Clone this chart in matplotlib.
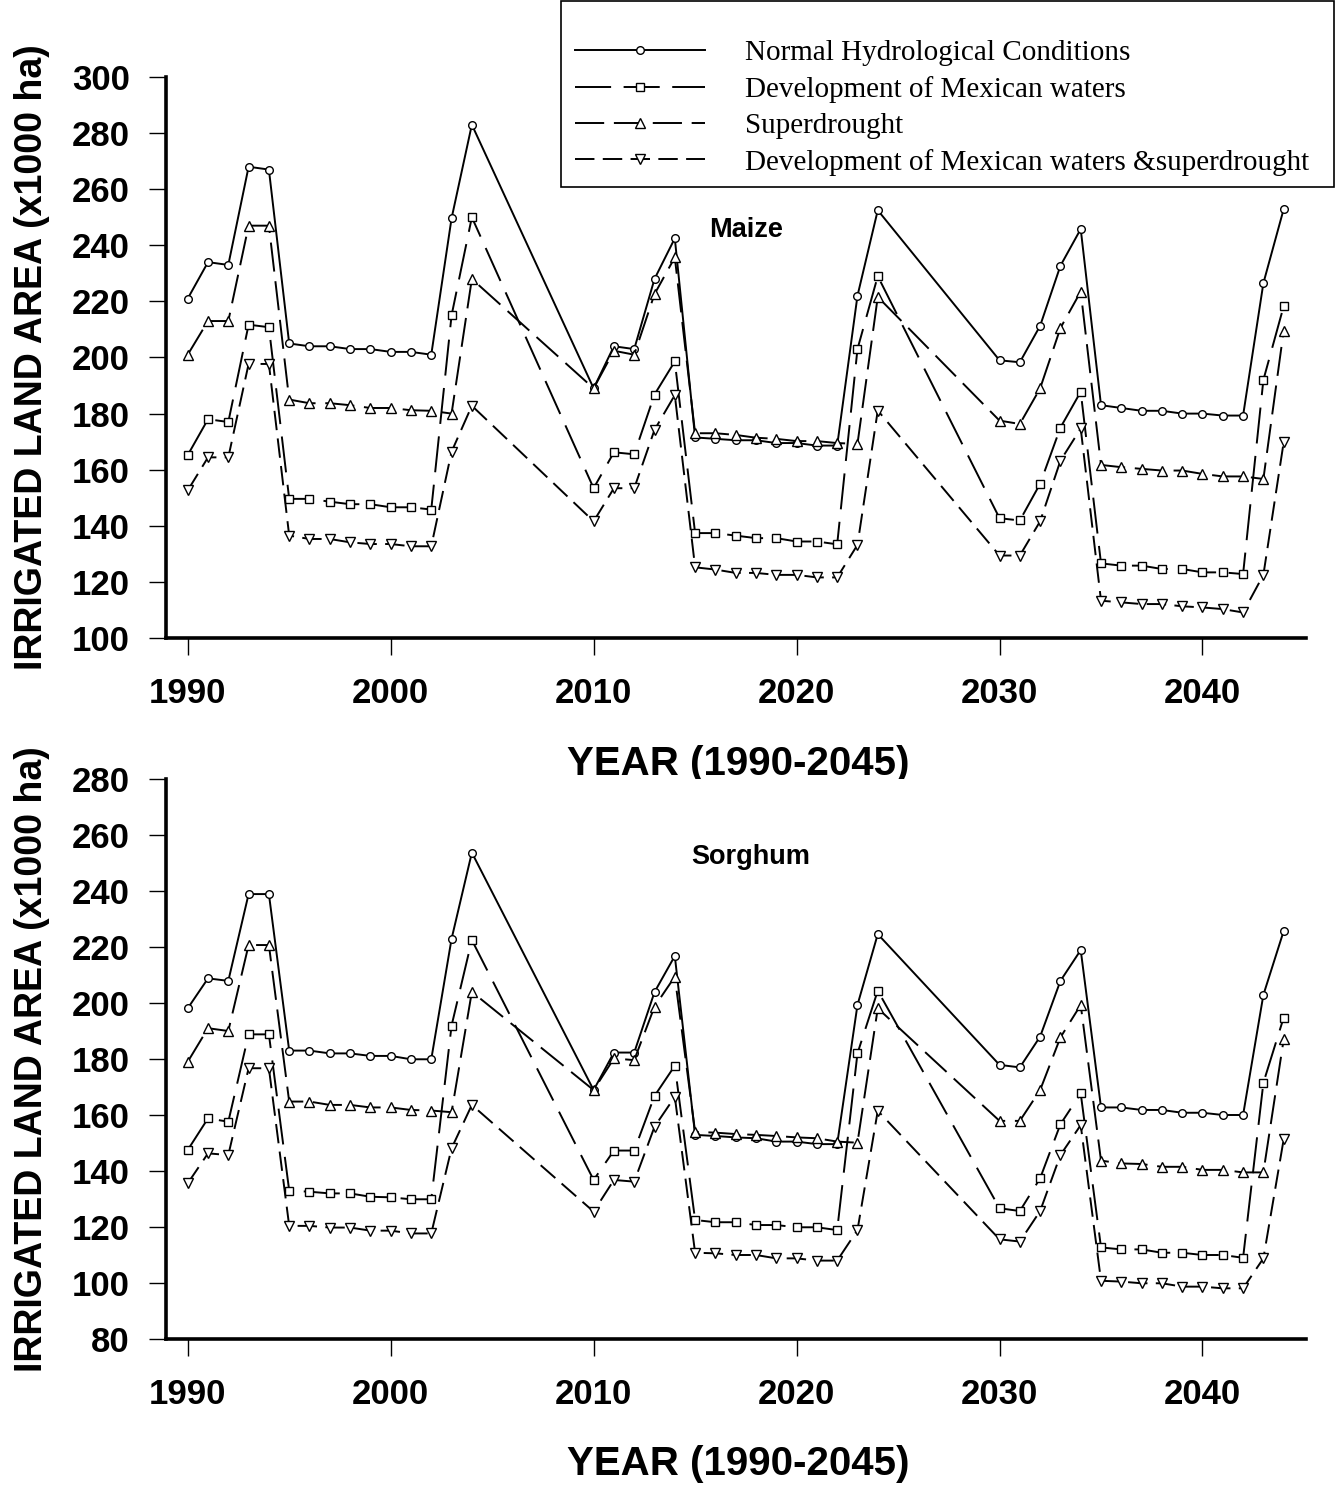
import matplotlib
matplotlib.use("Agg")
import matplotlib.pyplot as plt
from matplotlib.patches import Rectangle

plt.rcParams['font.family'] = 'Liberation Sans'
plt.rcParams['font.weight'] = 'bold'
plt.rcParams['lines.scale_dashes'] = False

years = [1990, 1991, 1992, 1993, 1994, 1995, 1996, 1997, 1998, 1999, 2000, 2001, 2002, 2003, 2004,
         2010, 2011, 2012, 2013, 2014, 2015, 2016, 2017, 2018, 2019, 2020, 2021, 2022, 2023, 2024,
         2030, 2031, 2032, 2033, 2034, 2035, 2036, 2037, 2038, 2039, 2040, 2041, 2042, 2043, 2044]

# Maize (x1000 ha)
normal_m = [221, 234, 233, 268, 267, 205, 204, 204, 203, 203, 202, 202, 201, 249.6, 283,
            189, 204, 203, 228, 242.5, 171.5, 171, 170.5, 170.5, 169.5, 169.5, 168.6, 168.6, 222, 252.5,
            199, 198.3, 211.3, 232.7, 245.8, 183, 182, 181, 181, 180, 180, 179.3, 179.3, 226.5, 252.9]
mex_m = [165.2, 178, 177, 211.7, 210.8, 149.6, 149.6, 148.6, 147.7, 147.7, 146.6, 146.6, 145.8, 215, 250,
         153.4, 166.2, 165.5, 186.8, 198.6, 137.4, 137.4, 136.5, 135.6, 135.6, 134.4, 134.4, 133.4, 203, 229,
         142.7, 141.9, 155, 175, 187.8, 126.6, 125.8, 125.8, 124.6, 124.6, 123.4, 123.4, 122.8, 192, 218.3]
super_m = [201, 213, 213, 247, 247, 185, 183.7, 183.7, 183, 182, 182, 181.2, 181, 180, 228,
           189, 202.4, 201, 222.6, 235.7, 173, 173, 172.4, 171.4, 171, 170.2, 170.2, 169.5, 169.2, 221.6,
           177.5, 176.3, 189, 210.5, 223.5, 161.7, 160.9, 160.3, 159.7, 159.7, 158.5, 157.6, 157.6, 156.7, 209.6]
comb_m = [152.6, 164.4, 164.4, 197.7, 197.7, 136.5, 135.3, 135.3, 134.1, 133.5, 133.5, 132.7, 132.7, 166.4, 182.8,
          141.6, 153.4, 153.4, 174.2, 186.6, 125.2, 124.4, 123.2, 123.2, 122.5, 122.5, 121.6, 121.6, 133.2, 181.1,
          129.4, 129.4, 141.6, 163.2, 174.7, 113.3, 112.7, 112.1, 112.1, 111.3, 110.9, 110.3, 109.1, 122.5, 169.8]

# Sorghum (x1000 ha)
normal_s = [198.1, 208.8, 207.9, 238.9, 238.9, 183, 183, 182, 182, 181.1, 181.1, 179.9, 179.9, 222.9, 253.7,
            168.9, 182.3, 182.3, 203.9, 216.8, 152.9, 152.5, 152, 151.7, 150.5, 150.5, 149.6, 149.6, 199.3, 224.6,
            177.9, 177, 188, 207.9, 218.9, 162.7, 162.7, 161.8, 161.8, 160.8, 160.8, 160, 160, 202.9, 225.7]
mex_s = [147.5, 158.8, 157.6, 188.8, 188.8, 133, 132.6, 132, 132, 130.8, 130.6, 129.9, 129.9, 191.9, 222.5,
         136.8, 147.3, 147.3, 166.8, 177.6, 122.5, 121.7, 121.7, 120.7, 120.7, 119.9, 119.9, 118.9, 182, 204.4,
         126.7, 125.7, 137.4, 156.7, 167.7, 112.7, 112, 112, 110.8, 110.8, 110, 110, 109, 171.5, 194.8]
super_s = [179, 191, 190, 220.7, 220.7, 164.8, 164.8, 163.6, 163.6, 162.7, 162.7, 161.8, 161.6, 161, 204,
           168.9, 180.2, 179.6, 198.7, 209.4, 154, 153.7, 153.2, 152.9, 152.5, 152, 151.7, 150.5, 150.1, 198.1,
           157.9, 157.9, 168.9, 187.7, 199.3, 143.7, 142.7, 142.5, 141.5, 141.5, 140.4, 140.4, 139.5, 139.5, 187]
comb_s = [135.6, 146.3, 145.7, 176.7, 176.7, 120.4, 120.4, 119.8, 119.8, 118.7, 118.7, 117.7, 117.7, 148.1, 163.6,
          125.5, 136.8, 136.2, 155.8, 166.5, 110.8, 110.6, 110, 110, 108.8, 108.8, 108, 108, 118.9, 161.5,
          115.6, 114.8, 125.7, 145.7, 156.4, 100.8, 100.5, 99.9, 99.9, 98.7, 98.7, 98.1, 98.1, 108.8, 151.3]

labels = ['Normal Hydrological Conditions', 'Development of Mexican waters',
          'Superdrought', 'Development of Mexican waters &superdrought']
styles = [dict(ls='-', marker='o', ms=5.5),
          dict(ls=(0, (26, 9)), marker='s', ms=6),
          dict(ls=(0, (21, 7)), marker='^', ms=6.5),
          dict(ls=(0, (14, 6)), marker='v', ms=6.5)]

W, H = 1335, 1485
fig = plt.figure(figsize=(W / 100, H / 100), dpi=100)


def draw(ax, series, ylim, yticks, name, name_xy):
    handles = []
    for vals, st in zip(series, styles):
        h, = ax.plot(years, vals, color='black', lw=1.4, mfc='white', mec='black', mew=1.0, **st)
        handles.append(h)
    ax.set_xlim(1988.93, 2045.1)
    ax.set_ylim(*ylim)
    ax.set_yticks(yticks)
    ax.set_xticks([1990, 2000, 2010, 2020, 2030, 2040])
    for s in ['top', 'right']:
        ax.spines[s].set_visible(False)
    for s in ['left', 'bottom']:
        ax.spines[s].set_linewidth(2.6)
    ax.tick_params(direction='out', length=12, width=1, labelsize=25)
    ax.tick_params(axis='x', pad=16)
    ax.tick_params(axis='y', pad=14)
    ax.set_ylabel('IRRIGATED LAND AREA (x1000 ha)', fontsize=27, fontweight='bold')
    ax.yaxis.set_label_coords(-0.102, 0.5)
    ax.set_xlabel('YEAR (1990-2045)', fontsize=29, fontweight='bold')
    ax.xaxis.set_label_coords(0.502, -0.19)
    ax.text(name_xy[0], name_xy[1], name, transform=ax.transAxes, ha='center', va='center',
            fontsize=19.5, fontweight='bold')
    return handles


ax1 = fig.add_axes([166 / W, 1 - 638 / H, 1140 / W, 561 / H])
handles = draw(ax1, [normal_m, mex_m, super_m, comb_m], (100, 300), range(100, 301, 20),
               'Maize', (0.509, 0.728))

ax2 = fig.add_axes([166 / W, 1 - 1339 / H, 1140 / W, 560 / H])
draw(ax2, [normal_s, mex_s, super_s, comb_s], (80, 280), range(80, 281, 20),
     'Sorghum', (0.513, 0.86))

# legend box
fig.patches.append(Rectangle((561 / W, 1 - 187 / H), (W - 562) / W, 186 / H,
                             transform=fig.transFigure, fill=False, edgecolor='black', lw=1.2))
fig.legend(handles, labels, loc='upper left', bbox_to_anchor=(575 / W, 1 - 40 / H),
           frameon=False, borderpad=0, borderaxespad=0, handlelength=4.45, handletextpad=1.37,
           labelspacing=0.33, prop=dict(family='Liberation Serif', size=21, weight='normal'))

fig.savefig('out.png', dpi=100)
